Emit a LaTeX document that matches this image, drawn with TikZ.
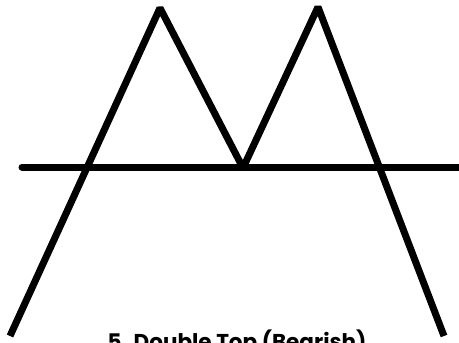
\documentclass[tikz,border=0pt]{standalone}
\usepackage{fontspec}
\setmainfont{Poppins}
\usepackage{tikz}
\tikzset{
  trend/.style={draw=black,line width=7pt,line join=bevel},
  level/.style={draw=black,line width=7pt,line cap=round},
  caption/.style={font=\bfseries\fontsize{21.5}{24}\selectfont,anchor=north,inner sep=0pt},
}

\begin{document}
\begin{tikzpicture}[x=1pt,y=-1pt]
  \useasboundingbox (0,0) rectangle (459,343);
  \clip (0,0) rectangle (459,343);
  % price path
  \coordinate (start) at (10,336);
  \coordinate (top1) at (160,8);
  \coordinate (dip) at (243,168);
  \coordinate (top2) at (318,7);
  \coordinate (end) at (444,336);
  % neckline
  \coordinate (nl) at (22,167);
  \coordinate (nr) at (470,167);
  \draw[level] (nl)--(nr);
  \draw[trend] (start)--(top1)--(dip)--(top2)--(end);
  \node[caption] (cap) at (237,330) {5. Double Top (Bearish)};
\end{tikzpicture}
\end{document}
